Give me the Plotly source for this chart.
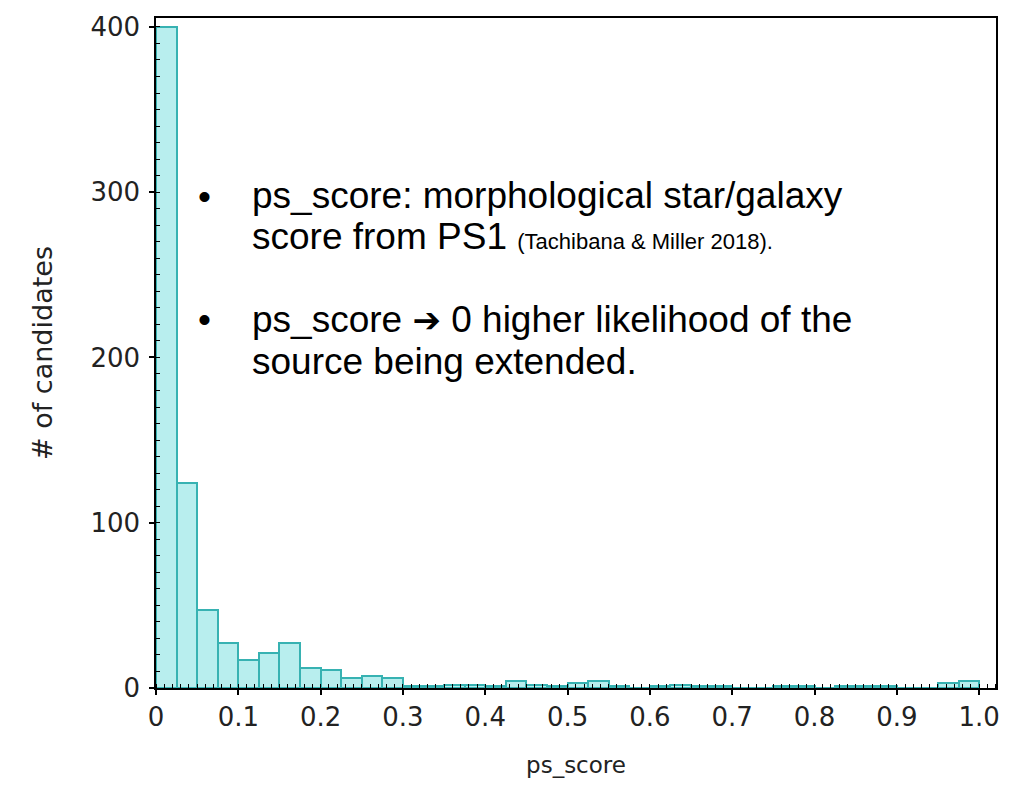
import plotly.graph_objects as go

# Histogram of ps_score for candidates (40 bins of width 0.025 from 0 to 1)
bin_start = 0.0
bin_width = 0.025
counts = [400, 124, 47, 27, 17, 21, 27, 12, 11, 6,
          7, 6, 1, 1, 2, 2, 1, 4, 2, 1,
          3, 4, 1, 0, 1, 2, 1, 1, 0, 0,
          1, 1, 0, 1, 1, 1, 0, 0, 3, 4]

x_tick_vals = [0.0, 0.1, 0.2, 0.3, 0.4, 0.5, 0.6, 0.7, 0.8, 0.9, 1.0]
x_tick_text = ["0", "0.1", "0.2", "0.3", "0.4", "0.5", "0.6", "0.7", "0.8", "0.9", "1.0"]
y_tick_vals = [0, 100, 200, 300, 400]

centers = [bin_start + bin_width * (i + 0.5) for i in range(len(counts))]

W, H = 1012, 786
ML, MR, MT, MB = 156, 12, 12, 98

fig = go.Figure()
fig.add_trace(go.Bar(
    x=centers, y=counts, width=bin_width,
    marker=dict(color="rgba(0,195,195,0.28)",
                line=dict(color="rgb(55,178,178)", width=2)),
    hoverinfo="x+y",
))


def px(x):
    return (x - ML) / (W - ML - MR)


def py(y):
    return (H - MB - y) / (H - MT - MB)


txt_font = dict(family="Liberation Sans, Arial, sans-serif", size=37, color="black")
arrow = "<span style='font-family:DejaVu Sans;font-size:34px'>➔</span>"
notes = [
    (205, 192, "•"),
    (250, 191, "ps_score: morphological star/galaxy"),
    (250, 232, "score from PS1 <span style='font-size:22px'>(Tachibana &amp; Miller 2018).</span>"),
    (205, 316, "•"),
    (250, 316, "ps_score " + arrow + " 0 higher likelihood of the"),
    (250, 359, "source being extended."),
]
annotations = [
    dict(x=px(x), y=py(y), xref="paper", yref="paper", text=t,
         showarrow=False, xanchor="left" if t != "•" else "center",
         yanchor="middle", font=txt_font)
    for x, y, t in notes
]

axis_font = "DejaVu Sans, sans-serif"
fig.update_layout(
    width=W, height=H,
    margin=dict(l=ML, r=MR, t=MT, b=MB),
    plot_bgcolor="white", paper_bgcolor="white",
    showlegend=False, bargap=0,
    annotations=annotations,
    xaxis=dict(
        range=[0, 1.0205],
        tickvals=x_tick_vals, ticktext=x_tick_text,
        ticks="outside", ticklen=5, tickwidth=1.5, tickcolor="black",
        minor=dict(dtick=0.01, ticks="inside", ticklen=4, tickwidth=1, tickcolor="black"),
        showline=True, linecolor="black", linewidth=1.5, mirror=True,
        showgrid=False, zeroline=False,
        tickfont=dict(family=axis_font, size=26, color="#222"),
        title=dict(text="ps_score", font=dict(family=axis_font, size=23, color="#222"), standoff=26),
    ),
    yaxis=dict(
        range=[0, 405.4],
        tickvals=y_tick_vals,
        ticks="outside", ticklen=5, tickwidth=1.5, tickcolor="black",
        ticklabelstandoff=4,
        minor=dict(dtick=10, ticks="inside", ticklen=4, tickwidth=1, tickcolor="black"),
        showline=True, linecolor="black", linewidth=1.5, mirror=True,
        showgrid=False, zeroline=False,
        tickfont=dict(family=axis_font, size=26, color="#222"),
        title=dict(text="# of candidates", font=dict(family=axis_font, size=27, color="#222"), standoff=30),
    ),
)

fig.write_html("out.html")
